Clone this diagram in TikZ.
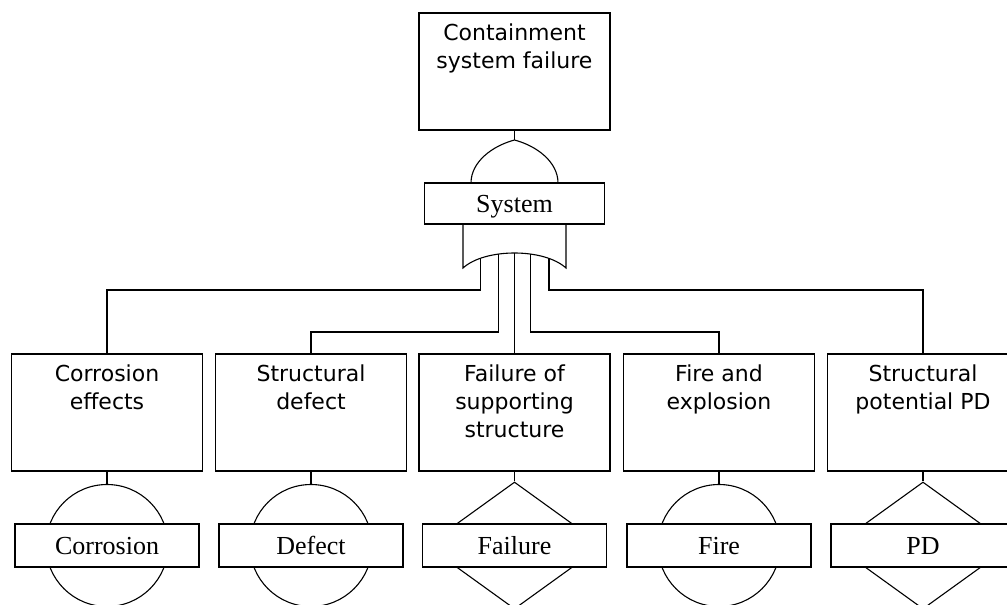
\documentclass[tikz,border=0pt]{standalone}
\usepackage{fontspec}
\setmainfont{Liberation Serif}
\newfontfamily\evfont{DejaVu Sans}
\usetikzlibrary{positioning,shapes.geometric}

\tikzset{
	event/.style={draw,minimum width=191pt,minimum height=117pt,inner sep=0pt},
	evtext/.style={align=center,inner sep=0pt,font=\evfont\fontsize{22}{28}\selectfont},
	tag/.style={draw,fill=white,minimum width=184pt,minimum height=43pt,inner sep=0pt,
		font=\fontsize{26}{30}\selectfont,text height=17pt,text depth=0pt},
	basic/.style={draw,circle,minimum size=122pt,inner sep=0pt},
	undev/.style={draw,diamond,minimum width=176pt,minimum height=127pt,inner sep=0pt},
}

\begin{document}
\begin{tikzpicture}[x=1pt,y=-1pt,line width=1.1pt]
	\useasboundingbox (0,0) rectangle (1007,605);
	% top event and its gate
	\node[event] (top) at (514.5,71.5) {};
	\node[evtext,below=11pt of top.north] (topt) {Containment\\system failure};
	\draw (471,183) .. controls (471,162) and (492,146) .. (514.5,140) coordinate (apex)
		.. controls (537,146) and (558,162) .. (558,183);
	\draw (top) -- (apex);
	\node[tag,minimum width=180pt,minimum height=41pt] (sys) at (514.5,203.5) {System};
	\draw (463,224) -- (463,268) .. controls (485,248) and (544,248) .. (566,268)
		coordinate[pos=0.2] (o1) coordinate[pos=0.37] (o2) coordinate[pos=0.5] (o3)
		coordinate[pos=0.63] (o4) coordinate[pos=0.8] (o5) -- (566,224);
	\coordinate (h1) at (0,290);
	\coordinate (h2) at (0,332);
	% basic events
	\foreach \i/\cx/\gate/\txt/\lbl in {1/107/basic/{Corrosion\\effects}/Corrosion,
		2/311/basic/{Structural\\defect}/Defect,
		3/514.5/undev/{Failure of\\supporting\\structure}/Failure,
		4/719/basic/{Fire and\\explosion}/Fire,
		5/923/undev/{Structural\\potential PD}/PD}{
		\node[event] (c\i) at (\cx,412.5) {};
		\node[evtext,below=11pt of c\i.north] (t\i) {\txt};
		\node[\gate] (g\i) at (\cx,545.5) {};
		\node[tag] (l\i) at (g\i) {\lbl};
		\draw (c\i) -- (g\i.north);
	}
	\draw (o1) -- (o1 |- h1) -| (c1.north);
	\draw (o2) -- (o2 |- h2) -| (c2.north);
	\draw (o3) -- (c3.north);
	\draw (o4) -- (o4 |- h2) -| (c4.north);
	\draw (o5) -- (o5 |- h1) -| (c5.north);
\end{tikzpicture}
\end{document}
